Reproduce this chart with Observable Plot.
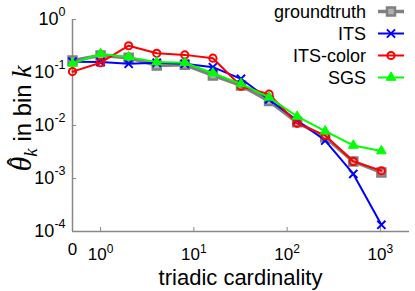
<!DOCTYPE html>
<html>
<head>
<meta charset="utf-8">
<script src="https://cdn.jsdelivr.net/npm/d3@7"></script>
<script src="https://cdn.jsdelivr.net/npm/@observablehq/plot@0.6"></script>
<style>
  html, body { margin: 0; padding: 0; background: #fff; }
  svg { display: block; }
</style>
</head>
<body>
<script>
// triadic cardinality bins (0 is drawn at 0.5 on the log axis)
const cardinality = [0, 1, 2, 4, 8, 16, 32, 64, 128, 256, 512, 1024];
const groundtruth = [0.168, 0.21, 0.19, 0.136, 0.14, 0.088, 0.057, 0.029, 0.0115, 0.006, 0.0021, 0.0013];
const its         = [0.16, 0.157, 0.146, 0.153, 0.146, 0.126, 0.076, 0.031, 0.0124, 0.0052, 0.00122, 0.000134];
const itsColor    = [0.104, 0.153, 0.32, 0.23, 0.215, 0.186, 0.055, 0.039, 0.011, 0.0065, 0.0021, 0.0014];
const sgs         = [0.148, 0.225, 0.195, 0.157, 0.153, 0.097, 0.061, 0.034, 0.0148, 0.0078, 0.0042, 0.0033];

const seriesNames = ["groundtruth", "ITS", "ITS-color", "SGS"];
const xTicks = [0.5, 1, 10, 100, 1000];
const xTickLabels = ["0", "10^0", "10^1", "10^2", "10^3"];
const yTicks = [1e-4, 1e-3, 1e-2, 1e-1, 1];
const yTickLabels = ["10^-4", "10^-3", "10^-2", "10^-1", "10^0"];

const styles = {
  "groundtruth": {stroke: "#808080", width: 3.5, symbol: "square", r: 4.5, fill: "#b0b0b0", mstroke: "#808080", msw: 2.5},
  "ITS":         {stroke: "#0000ff", width: 2, symbol: "times", r: 3.8, fill: "none", mstroke: "#0000ff", msw: 2},
  "ITS-color":   {stroke: "#ff0000", width: 2, symbol: "circle", r: 3.6, fill: "none", mstroke: "#ff0000", msw: 2},
  "SGS":         {stroke: "#00ff00", width: 2, symbol: "triangle", r: 3.6, fill: "#00ff00", mstroke: "#00ff00", msw: 1}
};

const valuesBySeries = {"groundtruth": groundtruth, "ITS": its, "ITS-color": itsColor, "SGS": sgs};
const rows = [];
for (const name of seriesNames) {
  valuesBySeries[name].forEach((v, i) => rows.push({series: name, k: cardinality[i], x: cardinality[i] === 0 ? 0.5 : cardinality[i], y: v}));
}

const FONT = "'Liberation Sans', Arial, Helvetica, sans-serif";
const marks = [];
// axis lines
marks.push(Plot.ruleX([0.5], {stroke: "#888", strokeWidth: 1.5}));
marks.push(Plot.ruleY([1e-4], {stroke: "#888", strokeWidth: 1.5}));
// inward ticks
marks.push(Plot.tickX(xTicks.slice(1), {x: d => d, stroke: "#888", insetTop: 208}));
marks.push(Plot.tickY(yTicks, {y: d => d, stroke: "#888", insetRight: 333}));
// series
for (const name of seriesNames) {
  const s = styles[name];
  const data = rows.filter(d => d.series === name);
  marks.push(Plot.line(data, {x: "x", y: "y", stroke: s.stroke, strokeWidth: s.width}));
  marks.push(Plot.dot(data, {x: "x", y: "y", symbol: () => s.symbol, r: s.r, fill: s.fill, stroke: s.mstroke, strokeWidth: s.msw}));
}
marks.push(Plot.axisX({ticks: xTicks.slice(1), tickFormat: d => xTickLabels[xTicks.indexOf(d)], tickSize: 0, tickPadding: 16, fontSize: 17, label: null}));
// the "0" tick label sits at the left end of the log axis
marks.push(Plot.text([0], {x: () => xTicks[0], text: () => xTickLabels[0], frameAnchor: "bottom", dy: 23, fontSize: 17, fill: "#000"}));
marks.push(Plot.axisY({ticks: yTicks, tickFormat: d => yTickLabels[yTicks.indexOf(d)], tickSize: 0, tickPadding: 7, fontSize: 18, label: null}));

const svg = Plot.plot({
  width: 415, height: 291,
  marginLeft: 72, marginRight: 6, marginTop: 19, marginBottom: 60,
  style: {fontFamily: FONT, color: "#000", background: "#fff"},
  x: {type: "log", domain: [0.5, 2050]},
  y: {type: "log", domain: [1e-4, 1]},
  symbol: {type: "identity"},
  marks
});
document.body.appendChild(svg);

const root = d3.select(svg);
function superscript(selector, dy, size) {
  root.selectAll(selector).each(function() {
    const s = this.textContent;
    const m = s.match(/^10\^(.*)$/);
    if (!m) return;
    const t = d3.select(this);
    t.text(null);
    t.append("tspan").text("10");
    t.append("tspan").attr("dy", dy).attr("font-size", size).text(m[1]);
  });
}
superscript('g[aria-label="x-axis tick label"] text', -7, 12);
superscript('g[aria-label="y-axis tick label"] text', -9, 12.5);

// axis titles
root.append("text")
  .attr("x", 240.5).attr("y", 285)
  .attr("text-anchor", "middle")
  .attr("font-family", FONT).attr("font-size", 22)
  .text("triadic cardinality");

const SERIF = "'Liberation Serif', 'DejaVu Serif', serif";
const yg = root.append("g");
const yl = yg.append("text")
  .attr("text-anchor", "middle")
  .attr("font-family", FONT).attr("font-size", 19);
yl.append("tspan").attr("font-family", SERIF).attr("font-style", "italic").attr("font-size", 24).text("θ");
yl.append("tspan").attr("font-family", SERIF).attr("font-style", "italic").attr("font-size", 15).attr("dy", 5).text("k");
yl.append("tspan").attr("dy", -5).text(" in bin ");
yl.append("tspan").attr("font-family", SERIF).attr("font-style", "italic").attr("font-size", 22).text("k");
// fit the rotated label to the span it covers in the reference
let scale = 1;
try {
  const L = yl.node().getComputedTextLength();
  if (L > 0) scale = 106 / L;
} catch (e) {}
yg.attr("transform", `translate(31,118.5) rotate(-90) scale(${scale})`);
// hat over theta, placed from the measured glyph box
let hx = -40;
try {
  const ext = yl.node().getExtentOfChar(0);
  hx = ext.x + ext.width / 2 + 1.5;
} catch (e) {}
yg.append("text")
  .attr("x", hx).attr("y", -5)
  .attr("text-anchor", "middle")
  .attr("font-family", SERIF).attr("font-size", 20)
  .text("\u02C6");

// legend
const symbolMap = {square: d3.symbolSquare, times: d3.symbolTimes, circle: d3.symbolCircle, triangle: d3.symbolTriangle};
const lg = root.append("g");
seriesNames.forEach((name, i) => {
  const s = styles[name];
  const cy = 11.5 + 22 * i;
  lg.append("line").attr("x1", 378).attr("x2", 404).attr("y1", cy).attr("y2", cy)
    .attr("stroke", s.stroke).attr("stroke-width", s.width);
  lg.append("path")
    .attr("transform", `translate(391,${cy})`)
    .attr("d", d3.symbol(symbolMap[s.symbol], Math.PI * s.r * s.r)())
    .attr("fill", s.fill).attr("stroke", s.mstroke).attr("stroke-width", s.msw);
  lg.append("text").attr("x", 366).attr("y", cy + 6.5)
    .attr("text-anchor", "end").attr("font-family", FONT).attr("font-size", 18)
    .text(name);
});
</script>
</body>
</html>
